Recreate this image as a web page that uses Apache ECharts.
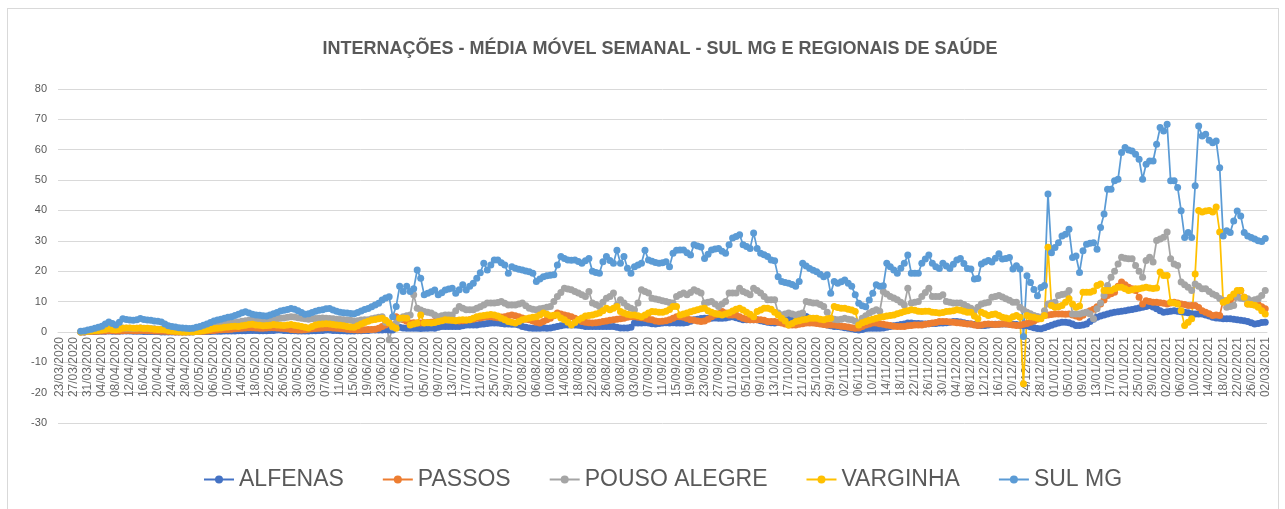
<!DOCTYPE html>
<html>
<head>
<meta charset="utf-8">
<script src="https://cdn.jsdelivr.net/npm/echarts@6/dist/echarts.min.js"></script>
<style>
  html, body { margin: 0; padding: 0; background: #fff; }
  #frame { position: absolute; left: 7px; top: 8px; width: 1272px; height: 520px; border: 1px solid #d9d9d9; box-sizing: border-box; }
  #chart { position: absolute; left: 0; top: 0; width: 1285px; height: 509px; }
</style>
</head>
<body>
<div id="frame"></div>
<div id="chart"></div>
<script>
// daily categories, 23/03/2020 .. 02/03/2021
const startDay = Date.UTC(2020, 2, 23);
const dayCount = 345;
const pad = n => (n < 10 ? '0' : '') + n;
const days = [];
for (let i = 0; i < dayCount; i++) {
    const d = new Date(startDay + i * 86400000);
    days.push(pad(d.getUTCDate()) + '/' + pad(d.getUTCMonth() + 1) + '/' + d.getUTCFullYear());
}

const yTicks = { min: -30, max: 80, step: 10 };

const alfenas = [
    null,null,null,null,null,null,0.0,0.0,0.1,0.1,
    0.1,0.2,0.2,0.2,0.3,0.2,0.2,0.2,0.3,0.3,
    0.3,0.2,0.2,0.2,0.1,0.1,0.1,0.1,0.1,0.0,
    0.0,0.0,0.0,0.0,0.0,0.0,0.0,0.0,0.0,0.1,
    0.1,0.1,0.1,0.1,0.2,0.2,0.2,0.3,0.3,0.3,
    0.3,0.4,0.4,0.4,0.5,0.5,0.5,0.4,0.4,0.4,
    0.5,0.5,0.6,0.6,0.5,0.5,0.4,0.4,0.3,0.3,
    0.3,0.3,0.4,0.4,0.5,0.5,0.6,0.6,0.5,0.5,
    0.4,0.4,0.3,0.3,0.3,0.4,0.4,0.5,0.5,0.6,
    0.6,0.6,0.6,0.7,0.6,0.6,1.8,1.5,1.3,1.2,
    1.2,1.2,1.2,1.1,1.2,1.2,1.3,1.2,1.5,1.8,
    1.8,1.8,1.8,1.8,1.8,2.0,2.3,2.3,2.3,2.3,
    2.5,2.6,2.8,2.9,2.9,2.9,2.8,2.6,2.6,2.5,
    2.5,2.3,1.8,1.5,1.3,1.2,1.2,1.2,1.3,1.2,
    1.3,1.5,1.8,2.0,2.3,2.3,2.3,2.3,2.2,2.0,
    1.8,1.8,1.8,1.8,1.8,1.8,1.8,1.8,1.8,1.5,
    1.3,1.3,1.3,1.5,2.9,2.9,2.9,3.0,2.9,2.7,
    2.6,2.8,2.9,3.0,2.9,3.0,2.9,2.9,2.9,3.1,
    3.5,4.0,4.2,4.4,4.5,4.5,4.5,4.6,4.5,4.5,
    4.6,4.8,5.0,4.7,4.3,4.0,4.0,4.0,4.0,4.0,
    3.7,3.4,3.2,3.0,2.9,3.2,3.6,4.0,4.4,4.8,
    5.0,5.3,5.6,5.1,4.5,4.0,3.5,3.0,2.6,2.3,
    2.0,1.8,1.8,1.6,1.4,1.2,1.0,0.8,0.6,0.8,
    1.1,1.2,1.2,1.2,1.2,1.3,1.5,1.8,2.0,2.2,
    2.4,2.6,2.9,2.9,2.8,2.8,2.7,2.6,2.7,2.8,
    2.8,2.9,2.9,3.0,3.2,3.4,3.4,3.3,3.0,2.8,
    2.6,2.4,2.2,2.1,2.1,2.3,2.4,2.5,2.5,2.6,
    2.6,2.6,2.5,2.4,2.2,2.1,2.0,1.7,1.4,1.1,
    1.0,1.4,1.8,2.2,2.6,2.9,3.2,3.2,3.0,2.6,
    2.1,2.1,2.3,2.6,3.4,4.2,4.8,5.2,5.6,5.9,
    6.2,6.5,6.6,6.8,7.0,7.2,7.4,7.6,7.9,8.1,
    8.4,8.7,8.2,7.6,7.0,6.5,6.6,6.8,7.0,6.8,
    6.6,6.5,6.3,6.0,5.9,5.9,5.9,5.6,5.2,4.8,
    4.6,4.5,4.3,4.3,4.3,4.2,4.0,3.8,3.7,3.4,
    3.0,2.6,2.8,3.1,3.2
];

const passos = [
    null,null,null,null,null,null,0.0,0.0,0.1,0.1,
    0.2,0.2,0.3,0.3,0.4,0.4,0.3,0.3,0.4,0.5,
    0.5,0.4,0.4,0.5,0.5,0.4,0.4,0.3,0.3,0.2,
    0.2,0.1,0.1,0.0,0.0,0.0,0.0,0.0,0.1,0.1,
    0.2,0.2,0.3,0.4,0.5,0.6,0.7,0.8,0.8,0.9,
    1.0,1.1,1.2,1.3,1.4,1.4,1.3,1.2,1.2,1.3,
    1.4,1.4,1.3,1.2,1.1,1.0,0.8,0.7,0.6,0.6,
    0.7,0.9,1.0,1.1,1.2,1.3,1.4,1.4,1.3,1.2,
    1.1,1.0,0.9,0.8,0.7,0.6,0.6,0.7,0.8,0.8,
    0.9,1.2,1.8,2.3,2.9,2.0,5.0,4.3,4.0,3.5,
    2.9,3.0,2.9,2.9,3.0,3.1,3.2,3.4,3.6,3.8,
    4.0,4.0,3.8,3.7,3.6,3.7,3.8,4.0,4.2,4.5,
    4.6,4.8,5.0,5.0,4.8,4.7,4.9,5.0,5.3,5.6,
    5.3,5.0,4.6,4.2,4.0,3.6,3.2,2.9,3.4,4.0,
    4.5,5.3,6.2,5.9,5.6,5.3,5.0,4.5,4.0,3.4,
    3.2,3.0,2.9,3.0,3.2,3.4,3.6,3.8,4.0,4.2,
    4.3,4.5,4.8,5.0,5.0,4.8,4.7,4.5,4.2,4.0,
    3.6,3.4,3.5,3.7,4.0,4.5,5.0,5.0,4.8,4.4,
    4.0,3.8,3.6,3.4,3.6,4.2,5.0,5.6,6.0,6.7,
    6.2,5.6,5.6,5.6,5.0,4.5,4.2,4.0,4.0,4.0,
    4.0,3.8,3.4,3.4,3.4,3.2,2.9,2.6,2.3,2.3,
    2.3,2.5,2.7,2.9,2.9,2.9,2.8,2.6,2.4,2.3,
    2.3,2.3,2.1,1.9,1.8,1.6,1.4,1.2,1.3,1.8,
    2.3,2.6,2.9,2.9,2.7,2.5,2.3,2.1,1.9,1.8,
    1.8,1.8,2.0,2.1,2.3,2.3,2.3,2.5,2.7,2.9,
    3.1,3.4,3.4,3.4,3.3,3.2,3.0,2.9,2.8,2.6,
    2.6,2.3,2.1,2.3,2.5,2.6,2.5,2.4,2.5,2.6,
    2.6,2.4,2.3,2.1,2.2,2.5,2.8,3.2,3.6,4.2,
    4.8,5.4,5.6,5.7,5.9,5.9,5.9,5.8,5.9,5.6,
    5.2,4.8,5.5,6.5,7.0,7.5,8.3,9.2,10.5,12.0,
    12.6,13.1,15.0,16.4,15.5,14.7,14.2,13.6,11.4,9.2,
    10.3,10.0,9.8,9.8,9.6,9.4,9.2,9.5,9.8,9.5,
    9.2,9.0,8.7,8.7,8.7,8.0,7.0,6.5,6.0,5.4,
    5.6,5.4,10.3,10.3,10.3,11.4,12.5,13.6,11.4,9.2,
    9.3,9.2,9.0,8.3,7.6
];

const pousoAlegre = [
    null,null,null,null,null,null,0.1,0.2,0.3,0.4,
    0.6,0.7,0.8,0.9,1.0,1.0,0.9,1.1,1.3,1.2,
    1.2,1.1,1.2,1.3,1.2,1.1,1.0,1.0,0.9,0.8,
    0.7,0.6,0.5,0.5,0.4,0.4,0.3,0.3,0.4,0.5,
    0.7,0.9,1.2,1.5,1.8,2.1,2.4,2.6,2.8,3.0,
    3.1,3.3,3.5,3.7,3.8,3.9,3.7,3.6,3.4,3.5,
    3.7,4.0,4.3,4.5,4.6,4.8,5.0,4.9,4.7,4.5,
    4.3,4.2,4.3,4.4,4.5,4.6,4.5,4.4,4.3,4.2,
    4.1,4.0,3.9,3.8,3.6,3.7,3.9,4.0,4.0,4.3,
    4.6,4.8,5.0,3.2,-2.6,1.5,2.9,4.2,5.0,5.3,
    5.6,12.2,7.8,7.2,6.7,6.5,6.2,5.6,5.0,5.3,
    5.6,5.6,5.6,7.0,8.4,7.8,7.3,7.3,7.3,7.8,
    8.3,8.9,9.5,9.5,9.5,9.7,10.0,9.4,8.9,8.9,
    8.9,9.2,9.5,8.6,7.8,7.5,7.3,7.6,7.8,8.1,
    8.4,10.0,11.7,13.0,14.4,14.1,13.9,13.3,12.8,12.2,
    11.7,13.3,9.5,9.0,8.4,9.8,11.1,11.7,12.8,8.9,
    10.6,9.5,8.4,7.8,7.3,9.5,13.9,13.3,12.8,11.1,
    10.8,10.6,10.3,10.0,9.7,9.5,11.7,12.3,12.8,12.2,
    13.0,13.9,13.4,12.8,9.5,9.8,10.0,9.2,8.4,9.2,
    10.0,12.8,12.8,12.8,14.4,13.3,12.8,12.2,14.4,13.6,
    12.8,11.7,10.6,10.6,10.6,6.2,5.6,5.9,6.2,5.9,
    5.6,5.9,6.2,10.0,9.8,9.5,9.5,9.0,8.4,6.5,
    4.5,4.2,4.0,4.2,4.5,4.2,4.0,3.5,2.9,4.5,
    5.3,6.2,6.8,7.3,6.8,13.3,12.5,11.7,11.2,10.6,
    9.8,8.9,14.4,9.5,9.8,10.0,11.7,13.0,14.4,11.7,
    11.7,11.7,12.2,10.0,9.8,9.5,9.5,9.5,9.0,8.4,
    7.8,7.0,8.1,9.2,9.5,9.8,11.4,11.7,12.0,11.5,
    10.9,10.4,9.8,9.8,8.1,7.3,6.5,6.0,5.4,5.1,
    4.8,7.0,9.2,9.5,9.8,12.0,12.3,12.5,13.6,5.9,
    5.9,5.9,6.2,6.5,5.9,4.3,7.6,9.5,12.0,15.3,
    18.0,20.0,22.4,24.6,24.3,24.1,24.1,21.9,20.0,18.0,
    23.5,24.6,23.0,30.1,30.6,31.2,32.9,24.1,22.4,21.9,
    16.4,15.5,14.7,13.6,15.8,15.0,14.2,14.2,13.3,12.5,
    12.0,11.0,10.3,8.1,8.4,8.7,11.4,11.1,10.9,10.9,
    10.3,10.6,10.9,12.0,13.6
];

const varginha = [
    null,null,null,null,null,null,0.0,0.1,0.2,0.3,
    0.4,0.5,0.6,0.8,1.0,0.8,0.7,0.9,1.2,1.3,
    1.3,1.2,1.2,1.3,1.1,1.2,1.0,0.9,0.8,0.8,
    0.7,0.5,0.3,0.2,0.1,0.0,0.0,0.1,0.0,0.1,
    0.2,0.4,0.6,0.9,1.1,1.2,1.3,1.5,1.6,1.8,
    1.9,1.8,2.0,2.2,2.4,2.5,2.3,2.2,2.0,2.1,
    2.2,2.4,2.3,2.2,2.1,2.3,2.4,2.2,2.0,1.8,
    1.5,1.3,1.8,2.3,2.5,2.6,2.7,2.6,2.4,2.3,
    2.2,2.0,1.8,1.6,1.5,2.0,2.6,3.1,3.5,3.9,
    4.1,4.3,4.5,3.8,2.9,1.8,1.2,4.5,4.6,4.5,
    2.3,2.6,2.9,5.6,2.9,3.0,2.9,3.1,3.4,3.7,
    4.0,3.9,3.8,3.7,3.9,4.0,3.9,4.0,4.5,5.0,
    5.2,5.4,5.6,5.7,5.6,5.2,4.5,4.0,3.4,3.2,
    2.9,3.4,4.0,4.3,4.6,4.8,5.0,5.6,6.2,5.8,
    5.3,5.5,5.6,4.6,4.0,3.2,2.3,3.1,4.0,4.6,
    5.2,5.4,5.6,5.9,6.2,7.0,7.8,7.3,7.8,8.4,
    6.7,6.2,5.8,5.6,5.6,5.3,5.0,5.6,6.2,6.7,
    6.6,6.5,6.5,6.8,7.4,8.4,8.4,5.6,5.9,6.2,
    6.6,7.0,7.3,7.6,7.8,7.0,6.5,6.1,5.8,5.6,
    5.9,6.3,6.9,7.5,7.8,7.2,6.5,5.8,5.0,6.7,
    7.2,7.8,7.8,7.5,6.5,5.6,4.5,3.6,2.3,2.8,
    3.4,3.7,4.0,4.2,4.5,4.5,4.5,4.2,4.0,4.3,
    4.5,8.4,8.0,7.8,7.8,7.5,7.2,6.7,2.3,3.0,
    3.4,3.8,4.2,4.5,4.8,5.0,5.2,5.4,5.6,6.0,
    6.3,6.7,7.0,7.3,7.1,6.8,6.7,6.8,6.8,6.5,
    6.4,6.2,6.4,6.7,6.8,7.0,7.3,7.1,6.8,6.5,
    6.5,5.2,4.3,6.5,6.0,5.4,5.7,5.9,5.4,4.8,
    4.6,4.3,5.0,5.4,4.8,-17.1,5.4,5.0,4.8,4.5,
    4.3,5.4,27.9,8.7,8.1,8.3,8.7,9.8,10.9,9.2,
    8.1,8.5,13.1,13.1,13.1,13.5,15.3,15.8,13.6,13.6,
    13.6,14.2,14.7,14.7,14.2,13.6,13.9,14.2,14.2,14.5,
    14.7,14.5,14.3,14.5,19.7,18.6,18.6,9.8,9.5,9.2,
    7.0,2.1,3.2,4.3,19.1,40.0,39.5,39.8,40.0,39.5,
    41.1,32.9,9.8,10.3,11.4,12.5,13.6,13.6,11.4,9.2,
    9.0,8.8,8.1,7.0,5.9
];

const sulMg = [
    null,null,null,null,null,null,0.2,0.3,0.6,0.9,
    1.2,1.5,1.9,2.6,3.3,2.8,2.3,3.2,4.3,4.1,
    3.9,3.8,4.0,4.4,4.1,3.9,3.8,3.6,3.5,3.3,
    2.6,2.0,1.8,1.6,1.4,1.3,1.2,1.1,1.2,1.5,
    1.8,2.2,2.6,3.1,3.6,3.9,4.2,4.5,4.8,5.0,
    5.4,5.8,6.3,6.6,6.2,5.8,5.6,5.5,5.3,5.2,
    5.6,6.0,6.4,6.9,7.1,7.4,7.7,7.5,7.0,6.4,
    5.8,6.0,6.4,6.8,7.1,7.3,7.6,7.7,7.2,6.8,
    6.5,6.3,6.2,6.1,6.0,6.4,6.9,7.4,7.7,8.3,
    8.9,9.4,10.5,11.2,11.6,5.0,8.4,15.0,13.3,15.0,
    13.3,14.2,20.4,17.7,12.2,12.7,13.2,13.8,12.2,12.9,
    13.8,14.1,14.4,12.7,13.9,15.5,13.8,15.0,16.0,17.7,
    19.5,22.6,20.4,22.0,23.7,23.7,22.8,22.0,19.3,21.5,
    21.0,20.6,20.4,20.1,19.8,19.3,16.6,17.4,18.2,18.5,
    18.7,18.8,22.0,24.8,24.2,23.7,23.6,23.7,23.2,22.6,
    23.4,24.2,20.0,19.6,19.3,23.1,24.8,23.5,22.6,26.9,
    22.6,24.8,21.0,19.3,21.5,22.0,22.6,26.9,23.7,23.3,
    22.9,22.6,22.8,23.1,21.5,25.9,26.9,27.0,27.0,26.1,
    25.3,28.7,28.3,28.0,24.2,25.6,27.0,27.3,27.5,26.6,
    25.9,28.7,30.9,31.4,32.0,28.7,28.1,27.5,32.6,27.5,
    25.9,25.4,24.8,23.7,23.4,18.2,16.6,16.3,16.0,15.6,
    15.0,16.6,22.6,21.7,20.9,20.3,19.8,19.0,18.2,18.8,
    12.7,16.6,16.0,16.5,17.1,16.0,15.0,12.2,9.4,8.6,
    8.3,10.5,12.7,15.5,15.0,15.2,22.6,21.5,20.4,19.3,
    21.0,22.6,25.3,19.3,19.3,19.3,22.6,24.0,25.3,22.6,
    21.5,20.9,22.6,21.7,20.9,22.3,23.7,24.2,22.5,20.9,
    20.7,17.4,17.6,22.4,23.0,23.5,23.0,24.3,25.7,24.0,
    24.2,24.5,20.7,21.8,20.7,-1.5,18.5,16.3,14.0,11.9,
    14.6,15.3,45.4,26.1,27.8,29.4,31.6,32.2,33.8,24.5,
    25.0,19.6,26.7,28.9,29.2,29.4,27.2,34.4,38.8,47.0,
    47.0,49.8,50.3,59.1,60.7,59.9,59.6,58.5,56.9,50.3,
    55.2,56.3,56.3,61.8,67.3,66.2,68.4,49.8,49.8,47.6,
    39.9,31.1,32.7,31.1,48.1,67.8,64.5,65.1,63.1,62.3,
    62.9,54.1,31.6,33.3,32.7,36.5,39.8,38.2,32.7,31.6,
    31.1,30.6,30.0,29.8,30.8
];

const seriesNames = ['ALFENAS', 'PASSOS', 'POUSO ALEGRE', 'VARGINHA', 'SUL MG'];
const seriesValues = [alfenas, passos, pousoAlegre, varginha, sulMg];
const seriesColors = ['#4472C4', '#ED7D31', '#A5A5A5', '#FFC000', '#5B9BD5'];

const chart = echarts.init(document.getElementById('chart'), null, { renderer: 'canvas' });
const font = '"Liberation Sans", Arial, sans-serif';

// plot box: 80 at y=89, -30 at y=423 -> zero line sits 91px above the bottom
const gridTop = 89, gridBottom = 86;
const zeroShift = Math.round((509 - gridBottom - gridTop) * (0 - yTicks.min) / (yTicks.max - yTicks.min));

chart.setOption({
    animation: false,
    textStyle: { fontFamily: font },
    title: {
        text: 'INTERNAÇÕES - MÉDIA MÓVEL SEMANAL - SUL MG E REGIONAIS DE SAÚDE',
        left: 655, top: 35, textAlign: 'center',
        textStyle: { fontSize: 18, fontWeight: 'bold', color: '#595959', fontFamily: font }
    },
    legend: {
        left: 198, top: 463,
        itemWidth: 30, itemHeight: 10, itemGap: 38,
        textStyle: { fontSize: 23, color: '#595959', fontFamily: font },
        data: seriesNames
    },
    grid: { left: 58, right: 18, top: gridTop, bottom: gridBottom, containLabel: false },
    xAxis: {
        type: 'category',
        data: days,
        boundaryGap: true,
        // Excel draws the category axis along the zero line
        offset: -zeroShift,
        axisLine: { onZero: false, lineStyle: { color: '#d9d9d9', width: 1 } },
        axisTick: { show: false },
        axisLabel: { interval: 3, rotate: 90, fontSize: 12, color: '#6b6b6b', margin: 5 },
        splitLine: { show: false }
    },
    yAxis: {
        type: 'value',
        min: yTicks.min, max: yTicks.max, interval: yTicks.step,
        axisLine: { show: false },
        axisTick: { show: false },
        axisLabel: { fontSize: 11, color: '#595959', margin: 11 },
        splitLine: { lineStyle: { color: '#d9d9d9', width: 1 } }
    },
    series: seriesNames.map((name, k) => ({
        name,
        type: 'line',
        data: seriesValues[k],
        color: seriesColors[k],
        symbol: 'circle',
        symbolSize: 7,
        showAllSymbol: true,
        lineStyle: { width: 1.75 },
        emphasis: { disabled: true }
    }))
});
</script>
</body>
</html>
